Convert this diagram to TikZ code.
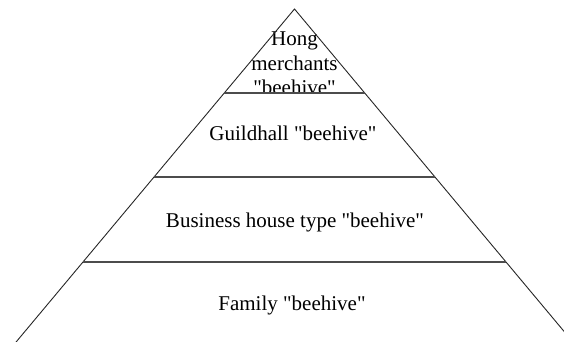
\documentclass[tikz,border=0pt]{standalone}
\usepackage{fontspec}
\setmainfont{Liberation Serif}[Ligatures=TeXOff]
\begin{document}
\begin{tikzpicture}[x=1pt,y=-1pt,
  edge/.style={draw=black!85, line width=0.9pt},
  sep/.style={draw=black!70, line width=1.3pt},
  lbl/.style={inner sep=0pt, font=\fontsize{21}{24.5}\selectfont, align=center}]
\useasboundingbox (0,0) rectangle (564,342);
\clip (0,0) rectangle (564,342);
\coordinate (apex) at (294.5,9);
\coordinate (bl) at (9.4,350);
\coordinate (br) at (579.6,350);
\coordinate (l1) at (224.3,93);  \coordinate (r1) at (364.7,93);
\coordinate (l2) at (154.1,177); \coordinate (r2) at (434.9,177);
\coordinate (l3) at (83,262);    \coordinate (r3) at (506,262);
\begin{scope}
  \clip (0,0) rectangle (564,93);
  \node[lbl, anchor=north] (hong) at (294.5,32) {Hong\\merchants\\"beehive"};
\end{scope}
\node[lbl, anchor=base] (guild) at (293,140) {Guildhall "beehive"};
\node[lbl, anchor=base] (biz) at (295,227) {Business house type "beehive"};
\node[lbl, anchor=base] (fam) at (292,310) {Family "beehive"};
\draw[edge] (bl) -- (apex) -- (br);
\draw[sep] (l1) -- (r1);
\draw[sep] (l2) -- (r2);
\draw[sep] (l3) -- (r3);
\end{tikzpicture}
\end{document}
